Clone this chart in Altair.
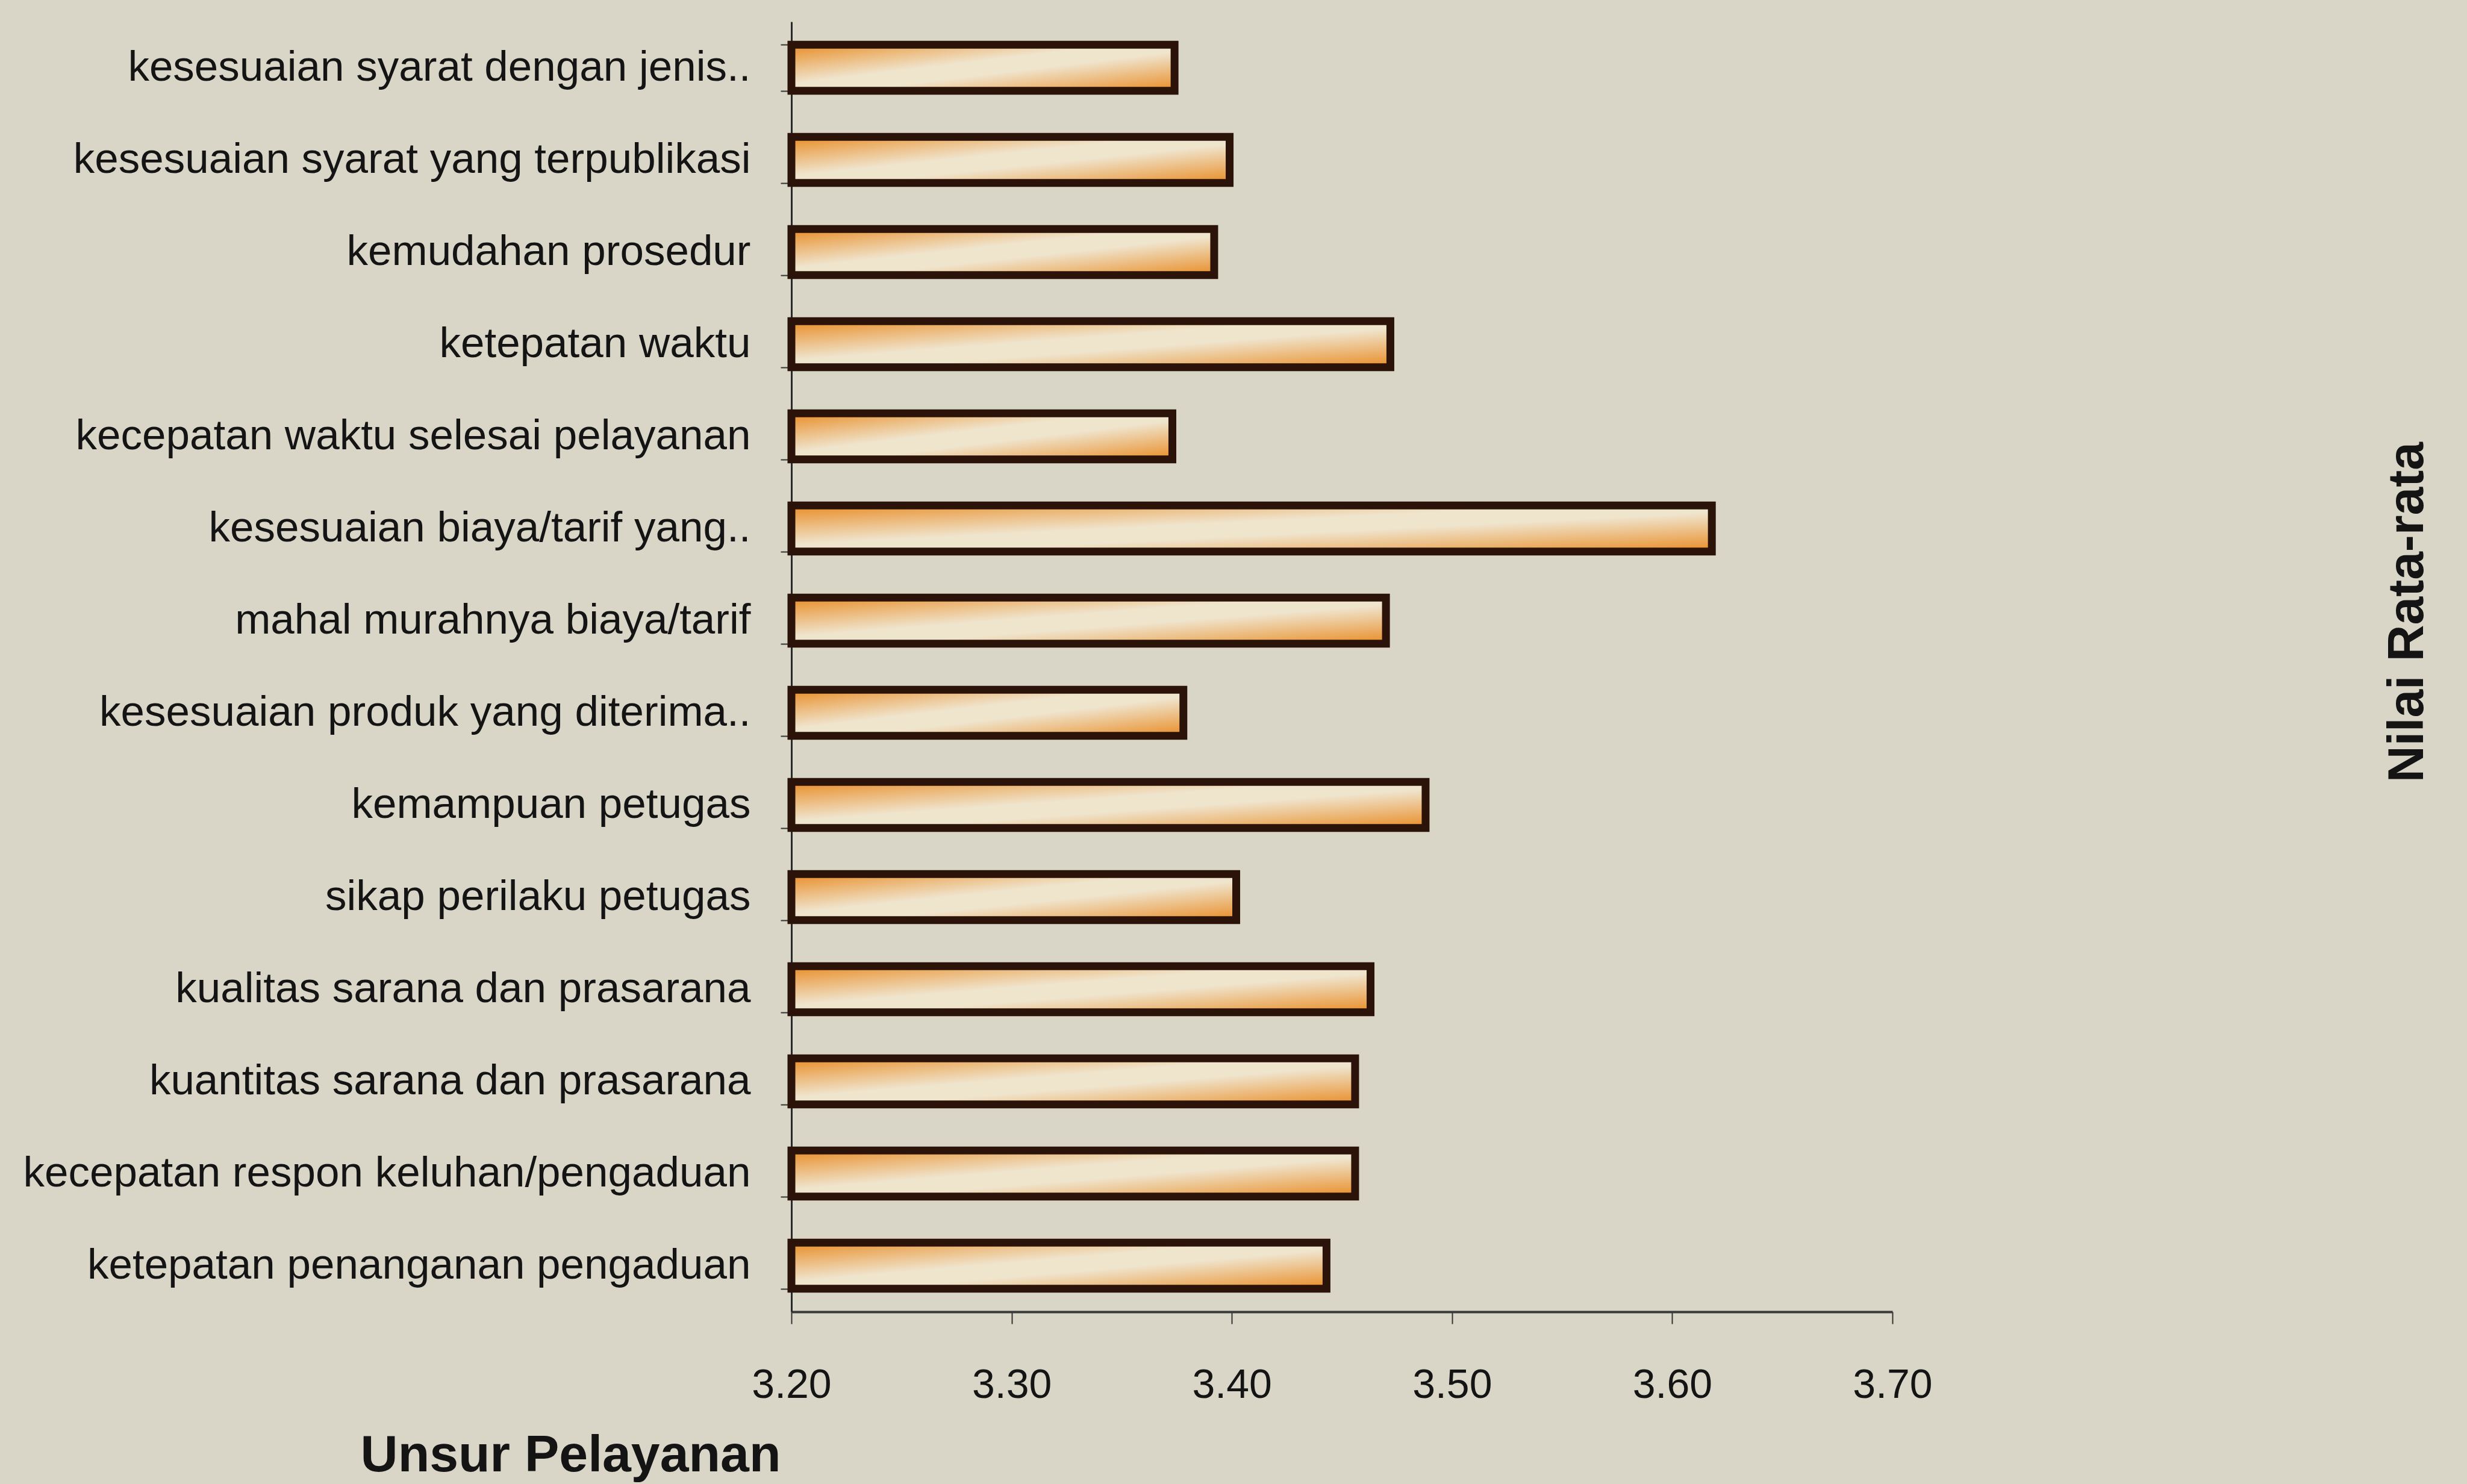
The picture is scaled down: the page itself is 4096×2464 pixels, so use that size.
import altair as alt
import pandas as pd

categories = [
    "kesesuaian syarat dengan jenis..",
    "kesesuaian syarat yang terpublikasi",
    "kemudahan prosedur",
    "ketepatan waktu",
    "kecepatan waktu selesai pelayanan",
    "kesesuaian biaya/tarif yang..",
    "mahal murahnya biaya/tarif",
    "kesesuaian produk yang diterima..",
    "kemampuan petugas",
    "sikap perilaku petugas",
    "kualitas sarana dan prasarana",
    "kuantitas sarana dan prasarana",
    "kecepatan respon keluhan/pengaduan",
    "ketepatan penanganan pengaduan",
]
values = [3.374, 3.399, 3.392, 3.472, 3.373, 3.618, 3.470,
          3.378, 3.488, 3.402, 3.463, 3.456, 3.456, 3.443]
x_ticks = [3.2, 3.3, 3.4, 3.5, 3.6, 3.7]
x_base = 3.2

df = pd.DataFrame({"unsur": categories, "nilai": values})

FONT = "Liberation Sans"
W, H = 1828, 2142
PL, PT = 1314, 36

grad = alt.Gradient(
    gradient="linear",
    stops=[
        alt.GradientStop(color="#e98c25", offset=0),
        alt.GradientStop(color="#efe4cc", offset=0.42),
        alt.GradientStop(color="#efe4cc", offset=0.58),
        alt.GradientStop(color="#e98c25", offset=1),
    ],
    x1=0, y1=0, x2=1, y2=1,
)

chart = alt.Chart(df).mark_bar(
    color=grad, stroke="#2b130a", strokeWidth=13
).encode(
    y=alt.Y(
        "unsur:N", sort=None,
        scale=alt.Scale(paddingInner=0.5, paddingOuter=0.25),
        axis=alt.Axis(
            title="Nilai Rata-rata",
            titleFont=FONT, titleFontSize=84, titleFontWeight="bold",
            titleColor="#141414", titleAngle=270,
            titleX=2683, titleY=980, titleAlign="center", titleBaseline="middle",
            labelFont=FONT, labelFontSize=71, labelColor="#141414",
            labelPadding=50, labelLimit=2000,
            tickBand="extent", tickSize=18, tickWidth=2, tickColor="#333333",
            domainColor="#2a2a2a", domainWidth=3, grid=False,
        ),
    ),
    x=alt.X(
        "nilai:Q",
        scale=alt.Scale(domain=[3.2, 3.7], zero=False, nice=False, clamp=True),
        axis=alt.Axis(
            title="Unsur Pelayanan",
            titleFont=FONT, titleFontSize=86, titleFontWeight="bold",
            titleColor="#141414",
            titleX=-367, titleY=238, titleAlign="center", titleBaseline="middle",
            values=x_ticks, format=".2f", labelFlush=False,
            labelFont=FONT, labelFontSize=68, labelColor="#141414",
            labelPadding=68,
            tickSize=20, tickWidth=2, tickColor="#333333",
            domainColor="#3a3a3a", domainWidth=4, grid=False,
        ),
    ),
    x2=alt.datum(x_base),
).properties(
    width=W, height=H,
    background="#d9d6c7",
    padding={"left": PL, "top": PT, "right": 4096 - PL - W, "bottom": 2464 - PT - H},
    autosize=alt.AutoSizeParams(type="none"),
).configure_view(stroke=None)

chart.save("out.html", embed_options={"renderer": "svg", "actions": False})
